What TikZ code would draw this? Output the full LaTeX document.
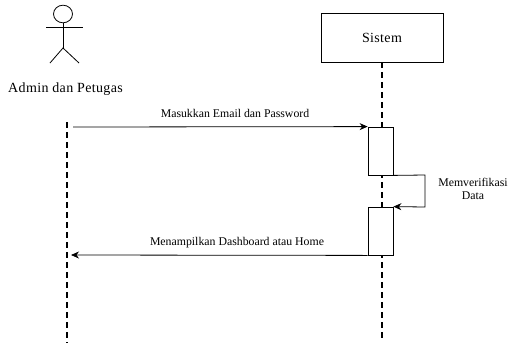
\documentclass[tikz,border=0pt]{standalone}
\usepackage{fontspec}
\setmainfont{Liberation Serif}
\usetikzlibrary{arrows.meta}
\begin{document}
\begin{tikzpicture}[x=1pt,y=-1pt,
  life/.style={line width=1.6pt,dash pattern=on 5.5pt off 4.5pt},
  thin/.style={line width=0.8pt},
  msg/.style={thin,-{Stealth[length=8pt,width=7pt]}},
  act/.style={draw,thin,fill=white,minimum width=25pt,inner sep=0pt},
  lbl/.style={font=\fontsize{11.8}{12.5}\selectfont,inner sep=0pt},
  big/.style={font=\fontsize{14}{16}\selectfont\addfontfeature{LetterSpace=2.5}}]
\useasboundingbox (0,0) rectangle (510,343);
% actor
\draw[thin] (63,14) circle[x radius=9.5pt,y radius=8.8pt];
\draw[thin] (63,23) -- (63,48);
\draw[thin] (46,27) -- (83,27);
\draw[thin] (50,63) -- (63,48) -- (79,63);
\node[big,inner sep=0pt] (actl) at (65.5,89) {Admin dan Petugas};
% system box
\node[draw,thin,big,minimum width=122pt,minimum height=49pt] (sys) at (382,37.5) {Sistem};
% lifelines
\coordinate (aTop) at (67,122);
\coordinate (aBot) at (67,343);
\coordinate (sBot) at (382,340);
\draw[life] (aTop) -- (aBot);
\draw[life] (sys.south) -- (sBot);
% activations
\node[act,minimum height=48pt] (a1) at (380.5,151) {};
\node[act,minimum height=48pt] (a2) at (380.5,231) {};
% messages
\coordinate (m1s) at (73,127);
\draw[msg] (m1s) -- (a1.north west);
\node[lbl] (l1) at (235,113) {Masukkan Email dan Password};
\coordinate (m2e) at (71,255);
\draw[msg] (a2.south west) -- (m2e);
\node[lbl] (l2) at (237,243) {Menampilkan Dashboard atau Home};
% self loop
\coordinate (lp1) at (425,175);
\coordinate (lp2) at (425,207);
\draw[msg] (a1.south east) -- (lp1) -- (lp2) -- (a2.north east);
\node[lbl,align=center] (l3) at (473,189) {Memverifikasi\\Data};
\end{tikzpicture}
\end{document}
